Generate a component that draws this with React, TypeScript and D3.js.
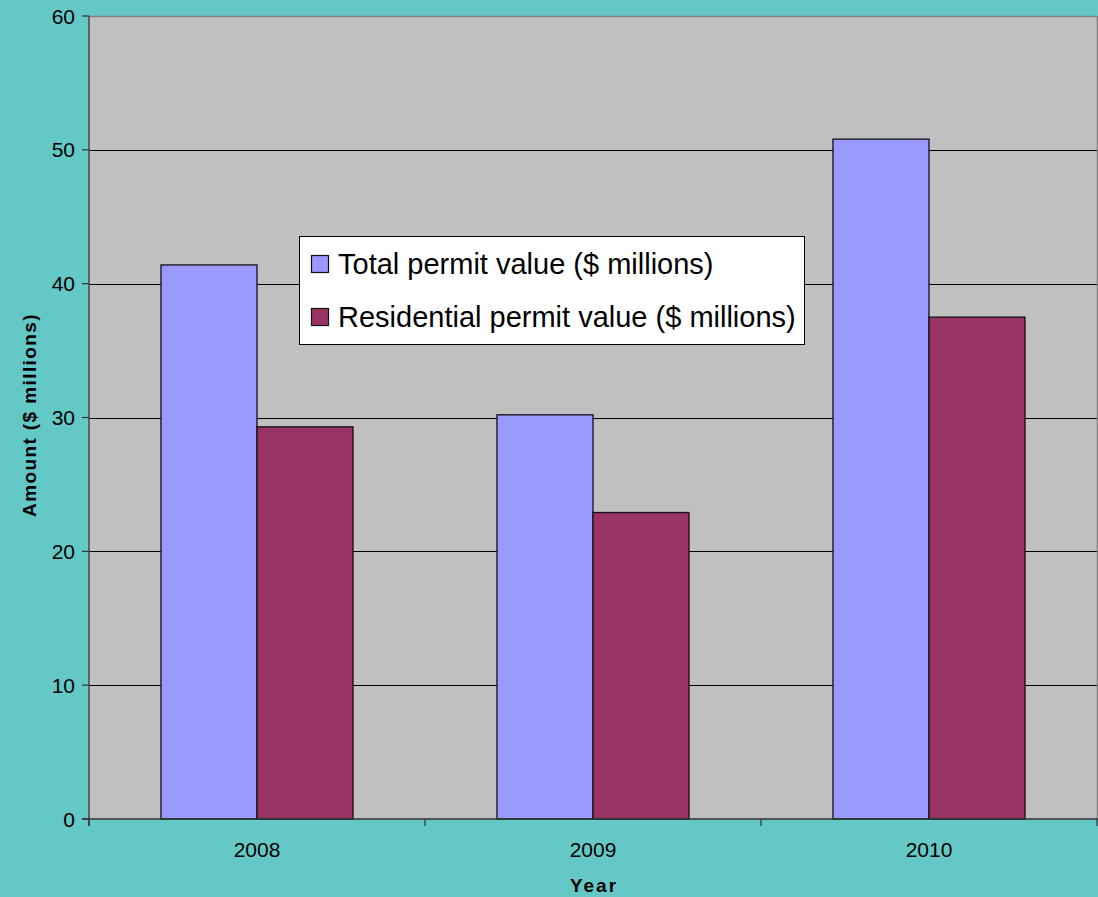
import React from "react";
import * as d3 from "d3";

const years = ["2008", "2009", "2010"];
const seriesNames = ["Total permit value ($ millions)", "Residential permit value ($ millions)"];
const totalValues = [41.4, 30.2, 50.8];
const residentialValues = [29.3, 22.9, 37.5];
const seriesColors = ["#9999FF", "#993366"];
const yTicks = [0, 10, 20, 30, 40, 50, 60];

const W = 1098;
const H = 897;
const plot = { left: 89, right: 1097, top: 16, bottom: 819 };
const FONT = "'Liberation Sans', Arial, sans-serif";

export default function App() {
  const x = d3.scaleBand<string>().domain(years).range([plot.left, plot.right]).paddingInner(0).paddingOuter(0);
  const y = d3.scaleLinear().domain([0, 60]).range([plot.bottom, plot.top]);
  const bw = x.bandwidth();
  const inner = d3.scaleBand<number>().domain([0, 1]).range([0, bw]).paddingInner(0);
  // outer padding such that the bar group is 192 of 336
  inner.paddingOuter((bw - 192) / 2 / (192 / 2));
  const series = [totalValues, residentialValues];
  const boundaries = [...years.map((yr) => x(yr) as number), plot.right];

  return (
    <svg width={W} height={H} style={{ position: "absolute", left: 0, top: 0, display: "block" }}>
      <rect x={0} y={0} width={W} height={H} fill="#64C9C6" />
      <rect x={plot.left} y={plot.top} width={plot.right - plot.left} height={plot.bottom - plot.top} fill="#C0C0C0" />
      {yTicks.filter((t) => t > 0 && t < 60).map((t) => (
        <line key={t} x1={plot.left} x2={plot.right} y1={Math.round(y(t)) + 0.5} y2={Math.round(y(t)) + 0.5} stroke="#000" strokeWidth={1} />
      ))}
      <line x1={plot.left} x2={plot.right} y1={plot.top + 0.5} y2={plot.top + 0.5} stroke="#808080" strokeWidth={1.5} />
      <line x1={plot.right + 0.5} x2={plot.right + 0.5} y1={plot.top} y2={plot.bottom} stroke="#808080" strokeWidth={1.5} />
      {series.map((vals, si) =>
        years.map((yr, i) => {
          const bx = (x(yr) as number) + (inner(si) as number);
          const top = y(vals[i]);
          return (
            <rect key={si + "-" + yr} x={bx} y={top} width={inner.bandwidth()} height={plot.bottom - top}
              fill={seriesColors[si]} stroke="#111" strokeWidth={1.3} />
          );
        })
      )}
      <line x1={plot.left} x2={plot.left} y1={plot.top} y2={plot.bottom + 7} stroke="#444" strokeWidth={1.5} />
      <line x1={plot.left - 7} x2={plot.right + 1} y1={plot.bottom} y2={plot.bottom} stroke="#333" strokeWidth={1.5} />
      {yTicks.map((t) => (
        <g key={t}>
          <line x1={plot.left - 7} x2={plot.left} y1={y(t)} y2={y(t)} stroke="#333" strokeWidth={1.2} />
          <text x={plot.left - 14} y={y(t)} dy="0.36em" textAnchor="end" fontFamily={FONT} fontSize={21} fill="#000">{t}</text>
        </g>
      ))}
      {boundaries.map((b, i) => (
        <line key={i} x1={b} x2={b} y1={plot.bottom} y2={plot.bottom + 7} stroke="#333" strokeWidth={1.2} />
      ))}
      {years.map((yr) => (
        <text key={yr} x={(x(yr) as number) + bw / 2} y={857} textAnchor="middle" fontFamily={FONT} fontSize={21} fill="#000">{yr}</text>
      ))}
      <text x={594} y={892} textAnchor="middle" fontFamily={FONT} fontSize={19} fontWeight="bold" letterSpacing={2} fill="#000">Year</text>
      <text transform="translate(36,415) rotate(-90)" textAnchor="middle" fontFamily={FONT} fontSize={19} fontWeight="bold" letterSpacing={1.4} fill="#000">Amount ($ millions)</text>
      <rect x={299.5} y={236.5} width={505} height={108} fill="#fff" stroke="#000" strokeWidth={1} />
      {seriesNames.map((name, i) => (
        <g key={name}>
          <rect x={311.5} y={255.5 + i * 53} width={17} height={17} fill={seriesColors[i]} stroke="#111" strokeWidth={1.2} />
          <text x={338} y={274 + i * 53} fontFamily={FONT} fontSize={29} fill="#000">{name}</text>
        </g>
      ))}
    </svg>
  );
}
